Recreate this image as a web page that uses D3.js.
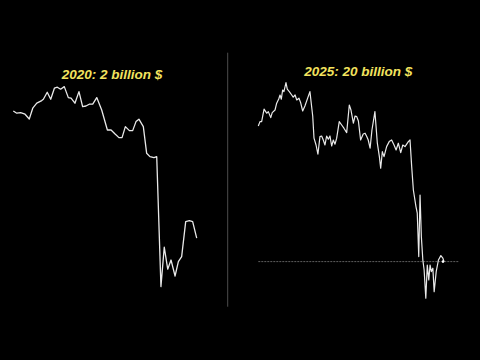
<!DOCTYPE html>
<html>
<head>
<meta charset="utf-8">
<script src="https://cdn.jsdelivr.net/npm/d3@7"></script>
<style>
  html, body { margin: 0; padding: 0; background: #000; }
  svg { display: block; }
</style>
</head>
<body>
<script>
// ---- data ----
const titles = ["2020: 2 billion $", "2025: 20 billion $"];

const days2020 = [0,1.9,4.0,6.4,8.7,10.6,12.8,15.5,16.4,18.5,20.4,22.4,24.0,25.8,27.8,30.0,31.5,33.6,35.8,37.8,39.6,41.4,43.3,45.5,48.2,51.3,53.3,55.5,57.6,59.3,61.1,63.3,65.1,66.9,68.5,70.9,72.7,74.5,76.7,78.2,80.5,82.3,84.2,86.0,88.2,90.0,91.8,94.0,96.0,97.8,100];
const values2020 = [94.5,93.4,93.7,92.9,90.5,95.9,98.4,99.7,100.4,103.9,100.4,105.9,106.4,105.4,106.7,101.2,100.9,98.4,104.2,96.7,97,97.9,97.9,101.2,95,85,85,83,81.2,81.2,86.7,84.7,84.7,89.2,90.4,86.7,73.4,71.7,71.2,71.7,6.7,26.4,15.4,20,12,19.2,21.7,39.2,39.7,39.2,30.9];

const days2025 = [0,0.9,1.8,3.1,4.5,5.4,6.7,7.5,9.0,9.9,11.0,11.7,12.4,13.1,13.8,14.9,15.6,16.7,18.0,18.8,19.8,20.7,21.9,22.8,23.9,25.1,27.8,29.3,30.0,31.1,32.1,33.2,34.1,35.0,35.9,36.8,37.7,38.6,39.5,40.4,41.3,42.2,43.6,44.9,46.1,47.6,49.0,49.9,51.2,52.1,53.0,53.9,55.1,56.5,57.5,58.4,59.2,60.2,61.2,62.8,64.1,65.2,65.9,66.8,67.7,69.1,70.5,71.8,73.1,74.2,75.4,76.7,77.8,79.0,80.8,81.7,82.6,83.5,84.9,85.6,86.4,87.1,87.8,88.6,89.3,90.2,91.0,91.8,92.5,93.2,94.0,94.7,95.8,97.0,98.3,99.4,100];
const values2025 = [87,89.2,89.2,95.4,93.4,94.2,91.2,93.7,95,98.4,100.5,102.5,100.4,105,104.2,108.7,105.4,104.2,102.5,101.4,102.5,100,100.9,98.7,94.5,97,104.2,92,80.9,77.5,72.9,81.7,82,80,77.5,82,80.4,82,77,80,77.9,80.9,89.2,87.5,85.9,83.7,97.5,95,88.4,92,91.7,89.5,80,83,83.4,81.7,80,75.9,85,94.2,78.4,71.7,65.9,74.2,71.7,76.7,79.2,80,77.5,75,78.4,73.7,77.5,76.7,79.2,80,66.7,55,46.7,43.4,21.7,52.5,31.7,20,15,0.9,17.5,10,17.5,14.2,15.9,4.2,14.2,20,22.2,20.9,19.2];

const refLevel2025 = 19.2;
const refSpan2025 = [0, 108];

// ---- drawing ----
const W = 480, H = 360;
const svg = d3.select("body").append("svg")
  .attr("width", W).attr("height", H)
  .style("background", "#000");

svg.append("rect").attr("width", W).attr("height", H).attr("fill", "#000");

const y = d3.scaleLinear().domain([0, 110]).range([300, 80]);
const x2020 = d3.scaleLinear().domain([0, 100]).range([13.3, 196.7]);
const x2025 = d3.scaleLinear().domain([0, 100]).range([258.3, 444]);

const lineColor = "#e9e9e9";
const titleColor = "#f3e35e";
const font = "'Liberation Sans', Arial, sans-serif";

// separator
svg.append("line")
  .attr("x1", 227.7).attr("x2", 227.7)
  .attr("y1", 52.7).attr("y2", 306.7)
  .attr("stroke", "#4d4d4d").attr("stroke-width", 1);

// titles
svg.append("text").text(titles[0])
  .attr("x", 112).attr("y", 79)
  .attr("text-anchor", "middle")
  .attr("font-family", font).attr("font-weight", "bold").attr("font-style", "italic")
  .attr("font-size", 13.5).attr("fill", titleColor);
svg.append("text").text(titles[1])
  .attr("x", 358.3).attr("y", 76)
  .attr("text-anchor", "middle")
  .attr("font-family", font).attr("font-weight", "bold").attr("font-style", "italic")
  .attr("font-size", 13.5).attr("fill", titleColor);

// reference dashed line (2025 panel)
svg.append("line")
  .attr("x1", x2025(refSpan2025[0])).attr("x2", x2025(refSpan2025[1]))
  .attr("y1", y(refLevel2025)).attr("y2", y(refLevel2025))
  .attr("stroke", "#5e5e5e").attr("stroke-width", 1)
  .attr("stroke-dasharray", "2,1");

// lines
const data2020 = days2020.map((d, i) => [d, values2020[i]]);
const data2025 = days2025.map((d, i) => [d, values2025[i]]);

svg.append("path").datum(data2020)
  .attr("d", d3.line().x(d => x2020(d[0])).y(d => y(d[1])))
  .attr("fill", "none").attr("stroke", lineColor)
  .attr("stroke-width", 1.3).attr("stroke-linejoin", "round");

svg.append("path").datum(data2025)
  .attr("d", d3.line().x(d => x2025(d[0])).y(d => y(d[1])))
  .attr("fill", "none").attr("stroke", lineColor)
  .attr("stroke-width", 1.2).attr("stroke-linejoin", "round");

// end marker
const last = data2025[data2025.length - 1];
svg.append("circle")
  .attr("cx", x2025(last[0]) - 1).attr("cy", y(last[1]))
  .attr("r", 1.3).attr("fill", "#ffffff");
</script>
</body>
</html>
